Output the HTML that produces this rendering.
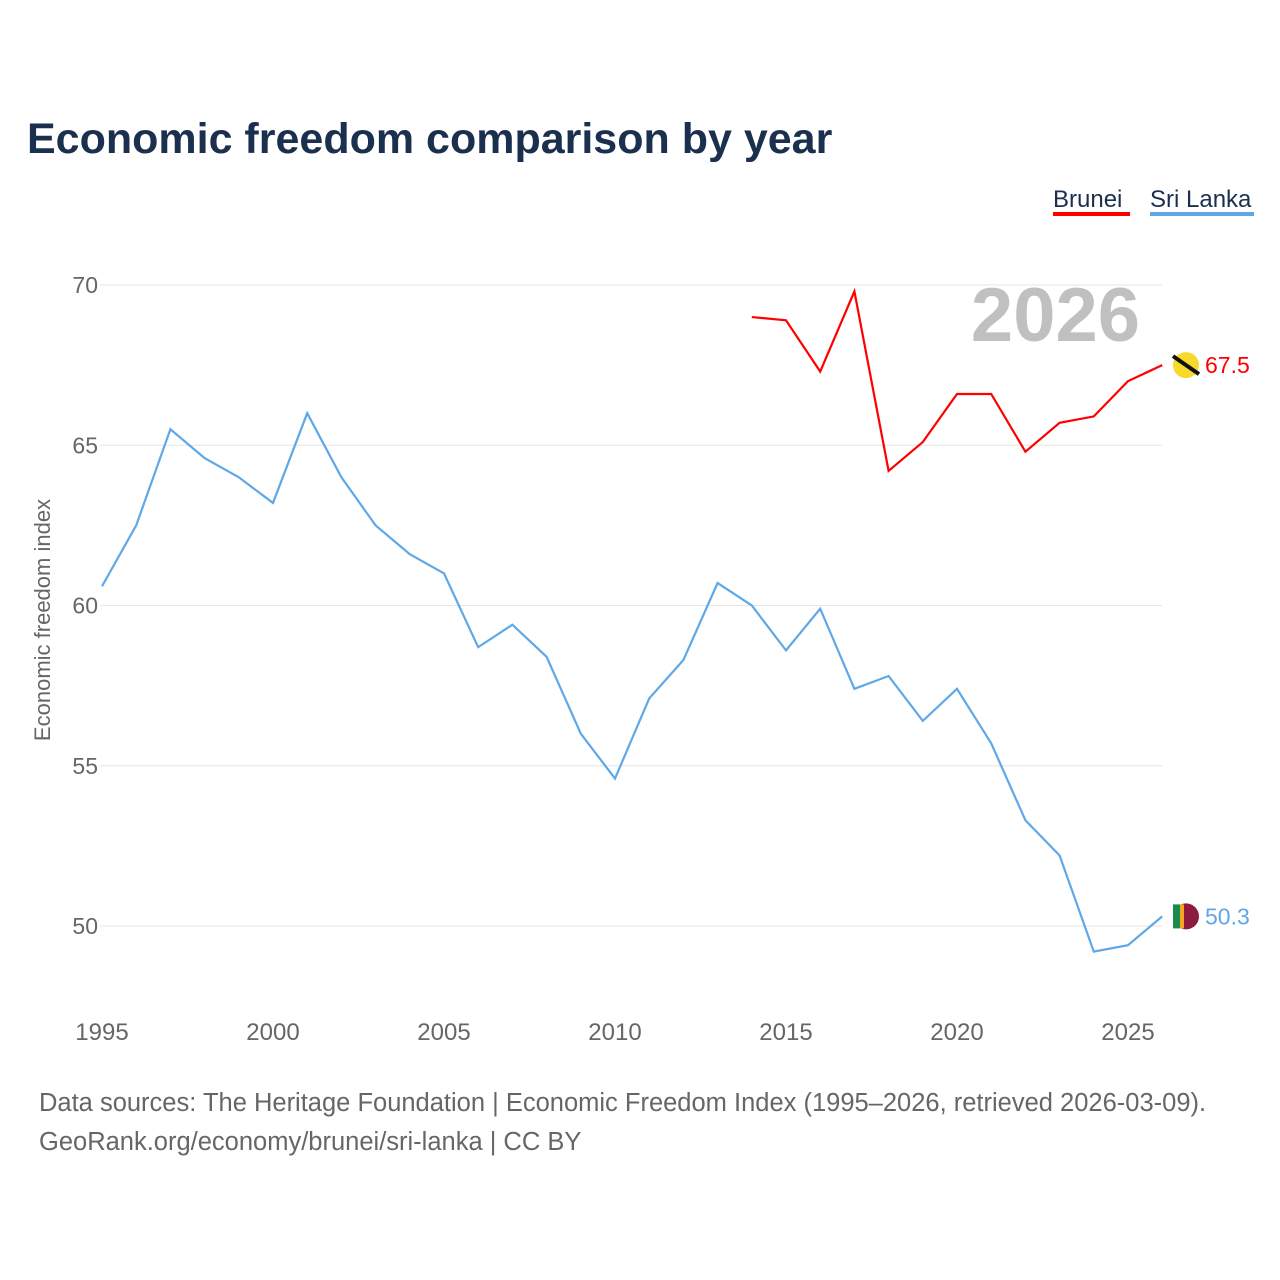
<!DOCTYPE html>
<html><head><meta charset="utf-8"><style>
body{margin:0;background:#fff;font-family:"Liberation Sans",sans-serif;}
#wrap{position:relative;width:1280px;height:1280px;overflow:hidden;}
</style></head><body>
<div id="wrap">
<svg id="chart" width="1280" height="1280"></svg>
</div>
<script>
const years=[1995,1996,1997,1998,1999,2000,2001,2002,2003,2004,2005,2006,2007,2008,2009,2010,2011,2012,2013,2014,2015,2016,2017,2018,2019,2020,2021,2022,2023,2024,2025,2026];
const sriLanka=[60.6,62.5,65.5,64.6,64.0,63.2,66.0,64.0,62.5,61.6,61.0,58.7,59.4,58.4,56.0,54.6,57.1,58.3,60.7,60.0,58.6,59.9,57.4,57.8,56.4,57.4,55.7,53.3,52.2,49.2,49.4,50.3];
const bruneiYears=[2014,2015,2016,2017,2018,2019,2020,2021,2022,2023,2024,2025,2026];
const brunei=[69.0,68.9,67.3,69.8,64.2,65.1,66.6,66.6,64.8,65.7,65.9,67.0,67.5];
const yTicks=[50,55,60,65,70];
const xTicks=[1995,2000,2005,2010,2015,2020,2025];

const NS="http://www.w3.org/2000/svg";
const svg=document.getElementById('chart');
const x=v=>102+(v-1995)*34.2;
const y=v=>285+(70-v)*32.05;
function el(tag,attrs,text){const e=document.createElementNS(NS,tag);for(const k in attrs)e.setAttribute(k,attrs[k]);if(text!==undefined)e.textContent=text;svg.appendChild(e);return e;}

let t=el('text',{x:27,y:153,'font-size':43,'font-weight':'bold',fill:'#1b2f4e'},'Economic freedom comparison by year');



yTicks.forEach(v=>{
 let g=el('line',{x1:100,x2:1162,y1:y(v),y2:y(v),stroke:'#e6e6e6','stroke-width':1});
 
 
 let l=el('text',{x:98,y:y(v)+8,'font-size':23,fill:'#666','text-anchor':'end'},v);
 
 
});
xTicks.forEach(v=>{
 let l=el('text',{x:x(v),y:1040,'font-size':24,fill:'#666','text-anchor':'middle'},v);
 
 
});
let yt=el('text',{x:0,y:0,'font-size':22,fill:'#666','text-anchor':'middle',transform:'translate(50,620) rotate(-90)'},'Economic freedom index');



let yr=el('text',{x:1140,y:341,'font-size':76,'font-weight':'bold',fill:'#c0c0c0','text-anchor':'end'},'2026');



let p1=el('polyline',{points:years.map((yy,i)=>x(yy)+','+y(sriLanka[i])).join(' '),fill:'none',stroke:'#5fa8e8','stroke-width':2.2});


let p2=el('polyline',{points:bruneiYears.map((yy,i)=>x(yy)+','+y(brunei[i])).join(' '),fill:'none',stroke:'#ff0000','stroke-width':2.2});



const bL=brunei[brunei.length-1], sL=sriLanka[sriLanka.length-1];
let c1=el('circle',{cx:1186,cy:y(bL),r:13,fill:'#f7d92a'});


let s1=el('line',{x1:1173,y1:y(bL)-9,x2:1199,y2:y(bL)+9,stroke:'#111','stroke-width':4});


let c2=el('circle',{cx:1186,cy:y(sL),r:13,fill:'#8d1b3d'});


let r2=el('rect',{x:1173,y:y(sL)-12,width:7,height:24,fill:'#1c8a4a'});


let r3=el('rect',{x:1180,y:y(sL)-12,width:4,height:24,fill:'#f5a623'});


let v1=el('text',{x:1205,y:y(bL)+8,'font-size':23,fill:'#ff0000'},bL.toFixed(1));


let v2=el('text',{x:1205,y:y(sL)+8,'font-size':23,fill:'#5fa8e8'},sL.toFixed(1));



let lg1=el('text',{x:1053,y:207,'font-size':24,fill:'#1b2f4e'},'Brunei');


let lu1=el('rect',{x:1053,y:212,width:77,height:4,fill:'#ff0000'});


let lg2=el('text',{x:1150,y:207,'font-size':24,fill:'#1b2f4e'},'Sri Lanka');


let lu2=el('rect',{x:1150,y:212,width:104,height:4,fill:'#5fa8e8'});



let f1=el('text',{x:39,y:1111,'font-size':25.5,fill:'#666'},'Data sources: The Heritage Foundation | Economic Freedom Index (1995–2026, retrieved 2026-03-09).');


let f2=el('text',{x:39,y:1150,'font-size':25.5,fill:'#666'},'GeoRank.org/economy/brunei/sri-lanka | CC BY');


</script>
</body></html>
